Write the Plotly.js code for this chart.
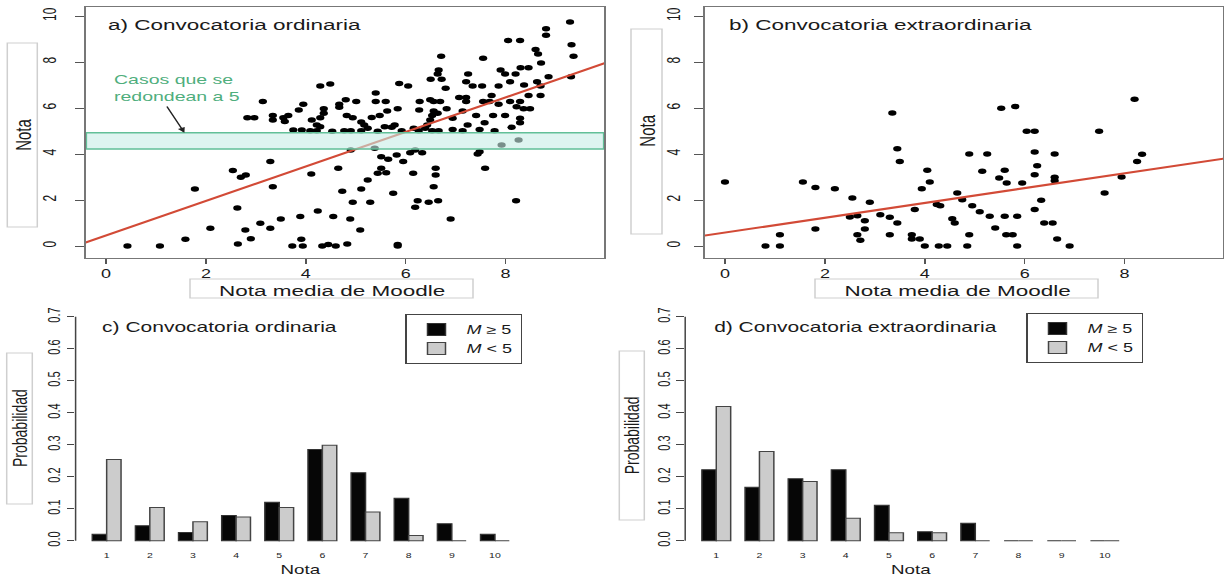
<!DOCTYPE html>
<html>
<head>
<meta charset="utf-8">
<script src="https://cdn.plot.ly/plotly-3.0.1.min.js"></script>
<style>
html,body{margin:0;padding:0;background:#fff;overflow:hidden;}
#wrap{width:1224px;height:578px;overflow:hidden;position:relative;}
#chart{width:816px;height:578px;transform:scaleX(1.5);transform-origin:0 0;}
</style>
</head>
<body>
<div id="wrap"><div id="chart"></div></div>
<script>
// ---------------- DATA ----------------
// a) Convocatoria ordinaria: nota media de Moodle vs nota del examen
const ordMoodle = [
 9.29, 8.81, 8.81, 8.05, 8.29, 9.32, 8.60, 8.65, 6.71, 9.36, 7.55, 8.71,
 8.30, 8.46, 7.90, 6.66, 6.64, 7.25, 7.99, 8.20, 9.31, 8.86, 6.50, 6.72, 7.21, 8.09, 8.63, 5.87, 4.49, 4.29, 6.05, 7.34, 7.53, 7.86, 8.37, 8.70,
 6.80, 5.40, 7.72, 7.07, 7.21, 8.46, 8.70, 4.80, 6.49,
 3.14, 5.01, 5.40, 5.60, 6.28, 6.56, 6.69, 7.21, 7.55, 7.68, 8.09, 8.29, 3.95, 4.67, 7.86, 4.67, 8.22, 8.36, 8.49, 3.86, 4.36, 5.63, 5.84, 6.56, 6.82, 7.14, 6.27,
 3.34, 3.65, 2.83, 2.97, 3.55, 4.36, 4.29, 4.82, 4.94, 5.32, 5.48, 6.53, 6.64, 6.94, 7.41, 7.75, 7.99, 8.29, 3.34, 3.58, 4.12, 5.11, 6.49, 7.58, 8.29, 4.22, 5.17, 6.43, 7.24, 8.12, 4.29, 5.58, 5.78,
 3.75, 3.92, 4.09, 4.22, 4.53, 4.77, 4.90, 5.11, 5.24, 5.44, 5.72, 5.92, 6.16, 6.26, 6.39, 6.53, 6.66, 6.94, 7.14, 7.48, 7.78,
 5.38, 7.92, 8.26,
 4.90, 6.19, 6.09, 6.33, 5.51, 5.65, 5.82, 7.48, 7.44, 5.95, 3.29, 4.65, 5.51, 5.61, 5.44, 6.60, 6.60, 7.59, 2.54, 2.80,
 2.70, 4.11, 6.15, 5.24, 3.34, 6.56, 1.78, 5.11, 4.73, 5.75, 2.63, 4.94, 5.29, 6.24, 6.46, 6.65, 6.19, 8.21, 4.24, 3.50,
 3.89, 4.55, 4.89, 6.90, 3.09, 2.09, 3.29, 2.79, 5.09, 1.59, 2.90, 3.91, 2.64, 4.83, 0.43, 1.08, 3.73, 3.94, 4.33, 4.45,
 4.60, 5.84, 5.84
];
const ordNota = [
 9.74, 9.45, 9.16, 8.94, 8.94, 8.75, 8.55, 8.35, 8.25, 8.25, 8.16, 7.96,
 7.75, 7.75, 7.65, 7.65, 7.48, 7.48, 7.48, 7.48, 7.36, 7.36, 7.25, 7.25, 7.14, 7.14, 7.14, 7.07, 7.04, 6.96, 6.96, 6.96, 6.96, 6.96, 7.00, 6.96,
 6.86, 6.65, 6.55, 6.46, 6.46, 6.55, 6.55, 6.36, 6.36,
 6.28, 6.28, 6.28, 6.28, 6.28, 6.28, 6.28, 6.28, 6.28, 6.28, 6.28, 6.28, 6.16, 6.16, 6.16, 6.03, 6.06, 5.97, 5.97, 5.91, 5.97, 5.87, 5.97, 5.87, 5.97, 5.87, 5.91,
 5.68, 5.67, 5.58, 5.58, 5.58, 5.77, 5.58, 5.67, 5.58, 5.59, 5.67, 5.67, 5.77, 5.55, 5.67, 5.67, 5.67, 5.55, 5.48, 5.41, 5.48, 5.39, 5.48, 5.36, 5.36, 5.26, 5.26, 5.26, 5.26, 5.16, 5.19, 5.19, 5.26,
 5.04, 5.04, 5.01, 5.01, 4.99, 5.01, 5.01, 5.01, 5.12, 4.99, 5.16, 5.01, 5.12, 5.01, 5.12, 5.01, 5.01, 5.07, 5.01, 5.07, 5.01,
 4.25, 4.39, 4.61,
 4.17, 4.17, 4.06, 4.06, 3.88, 3.77, 3.96, 4.10, 4.00, 3.67, 3.67, 3.38, 3.38, 3.19, 3.16, 3.38, 3.09, 3.38, 3.28, 3.09,
 2.99, 3.13, 3.16, 2.87, 2.58, 2.58, 2.48, 2.48, 2.38, 2.29, 1.65, 1.90, 1.90, 1.97, 1.90, 1.97, 1.68, 1.97, 1.52, 1.17,
 1.28, 1.28, 1.17, 1.17, 0.99, 0.77, 0.77, 0.70, 0.70, 0.29, 0.32, 0.29, 0.09, 0.09, 0, 0, 0, 0, 0, 0.07,
 0, 0.07, 0
];
// b) Convocatoria extraordinaria
const extMoodle = [
 0, 1.56, 1.81, 2.20, 2.55, 2.90, 1.81, 0.81, 1.10, 1.10,
 2.50, 2.65, 2.80, 2.80, 2.65, 2.71, 3.11, 3.30, 3.45, 3.30,
 3.35, 3.45, 3.50, 3.80, 3.74, 3.74, 3.90, 4.00, 3.94, 4.05,
 4.10, 4.24, 4.31, 4.28, 4.45, 4.55, 4.60, 4.65, 4.75, 4.85,
 4.89, 4.89, 4.95, 5.10, 5.15, 5.25, 5.30, 5.41, 5.49, 5.53,
 5.60, 5.64, 5.60, 5.63, 5.76, 5.81, 5.85, 5.85, 5.95, 6.04,
 6.20, 6.20, 6.25, 6.20, 6.20, 6.33, 6.39, 6.56, 6.60, 6.60,
 6.60, 6.65, 6.90, 7.49, 7.60, 7.94, 8.20, 8.25, 8.35
];
const extNota = [
 2.78, 2.78, 2.54, 2.49, 2.09, 1.90, 0.74, 0, 0, 0.49,
 1.26, 1.32, 1.10, 0.74, 0.49, 0.25, 1.36, 1.25, 1.00, 0.49,
 5.78, 4.23, 3.68, 1.59, 0.49, 0.30, 0.30, 0, 2.49, 3.29,
 2.78, 1.80, 1.75, 0, 0, 1.19, 1.00, 2.30, 2.01, 0,
 0.49, 4.00, 1.75, 1.49, 3.25, 4.00, 1.29, 0.78, 2.96, 5.99,
 3.29, 2.74, 1.29, 0.49, 0.49, 6.07, 1.29, 0, 2.74, 4.99,
 4.99, 4.09, 3.49, 3.10, 1.59, 1.99, 1.00, 1.00, 4.00, 2.99,
 2.84, 0.30, 0, 4.99, 2.30, 3.00, 6.38, 3.68, 3.99
];
// regression lines (end points)
const rectaOrdX = [-1, 11];
const rectaOrdY = [-0.29, 8.71];
const rectaExtX = [-1, 11];
const rectaExtY = [0.26, 4.13];
// band: cases rounded to 5
const bandaRedondeo = [4.22, 4.93];

// c), d) probability bars
const notas = [1, 2, 3, 4, 5, 6, 7, 8, 9, 10];
const ordMge5 = [0.020, 0.047, 0.026, 0.079, 0.120, 0.285, 0.212, 0.133, 0.053, 0.020];
const ordMlt5 = [0.254, 0.104, 0.059, 0.074, 0.104, 0.298, 0.090, 0.016, 0.000, 0.000];
const extMge5 = [0.222, 0.167, 0.194, 0.222, 0.111, 0.028, 0.055, 0.000, 0.000, 0.000];
const extMlt5 = [0.419, 0.279, 0.185, 0.070, 0.025, 0.025, 0.000, 0.000, 0.000, 0.000];
const probTicks = [0, 0.1, 0.2, 0.3, 0.4, 0.5, 0.6, 0.7];
const probTickText = ['0.0', '0.1', '0.2', '0.3', '0.4', '0.5', '0.6', '0.7'];
const notaTicks = [0, 2, 4, 6, 8];
const notaYTicks = [0, 2, 4, 6, 8, 10];

// ---------------- LAYOUT HELPERS ----------------
const W = 1224, H = 578;
const px = X => X / W;
const py = Y => 1 - Y / H;
const FONT = 'Liberation Sans, Arial, Helvetica, sans-serif';
const TXT = '#1a1a1a';

const scatterAxisX = (dom, anchor) => ({
  domain: dom, anchor: anchor, range: [-0.4, 9.97], tickvals: notaTicks,
  ticks: 'outside', ticklen: 5, tickwidth: 1, tickcolor: '#555',
  showline: true, mirror: true, linecolor: '#777', linewidth: 1.2,
  showgrid: false, zeroline: false, tickfont: {family: FONT, size: 12, color: TXT}
});
const scatterAxisY = (dom, anchor, standoff) => ({
  domain: dom, anchor: anchor, range: [-0.5, 10.38], tickvals: notaYTicks,
  ticks: 'outside', ticklen: 6, tickwidth: 1, tickcolor: '#555', tickangle: -90,
  ticklabelstandoff: standoff,
  showline: true, mirror: true, linecolor: '#777', linewidth: 1.2,
  showgrid: false, zeroline: false, tickfont: {family: FONT, size: 12, color: TXT}
});
const barAxisX = (dom, anchor) => ({
  domain: dom, anchor: anchor, range: [0.28, 10.72], tickvals: notas,
  ticks: '', showline: false, showgrid: false, zeroline: false,
  tickfont: {family: FONT, size: 7, color: '#222'}
});
const barAxisY = (dom, anchor) => ({
  domain: dom, anchor: anchor, range: [-0.028, 0.728], tickvals: probTicks, ticktext: probTickText,
  ticks: 'outside', ticklen: 5, tickwidth: 1, tickcolor: '#444', tickangle: -90,
  showline: false, showgrid: false, zeroline: false,
  tickfont: {family: FONT, size: 11, color: TXT}
});

// ---------------- TRACES ----------------
const dot = {color: '#000', size: 5.5};
const red = {color: '#d24a36', width: 2};
const blackBar = {color: '#060606', line: {color: '#333', width: 1}};
const grayBar = {color: '#cccccc', line: {color: '#444', width: 1}};

const traces = [
  {type: 'scatter', mode: 'markers', x: ordMoodle, y: ordNota, xaxis: 'x', yaxis: 'y', marker: dot, showlegend: false},
  {type: 'scatter', mode: 'lines', x: rectaOrdX, y: rectaOrdY, xaxis: 'x', yaxis: 'y', line: red, showlegend: false},
  {type: 'scatter', mode: 'markers', x: extMoodle, y: extNota, xaxis: 'x2', yaxis: 'y2', marker: dot, showlegend: false},
  {type: 'scatter', mode: 'lines', x: rectaExtX, y: rectaExtY, xaxis: 'x2', yaxis: 'y2', line: red, showlegend: false},
  {type: 'bar', x: notas, y: ordMge5, xaxis: 'x3', yaxis: 'y3', marker: blackBar, name: '<i>M</i> ≥ 5', legend: 'legend'},
  {type: 'bar', x: notas, y: ordMlt5, xaxis: 'x3', yaxis: 'y3', marker: grayBar, name: '<i>M</i> &lt; 5', legend: 'legend'},
  {type: 'bar', x: notas, y: extMge5, xaxis: 'x4', yaxis: 'y4', marker: blackBar, name: '<i>M</i> ≥ 5', legend: 'legend2'},
  {type: 'bar', x: notas, y: extMlt5, xaxis: 'x4', yaxis: 'y4', marker: grayBar, name: '<i>M</i> &lt; 5', legend: 'legend2'}
];

// ---------------- ANNOTATIONS & SHAPES ----------------
const ann = (text, X, Y, size, opts) => Object.assign({
  text: text, xref: 'paper', yref: 'paper', x: px(X), y: py(Y),
  xanchor: 'center', yanchor: 'middle', showarrow: false, borderpad: 0,
  font: {family: FONT, size: size, color: TXT}
}, opts || {});
const box = (X0, X1, Y0, Y1) => ({
  type: 'rect', xref: 'paper', yref: 'paper', x0: px(X0), x1: px(X1), y0: py(Y1), y1: py(Y0),
  line: {color: '#cfcfcf', width: 1}, fillcolor: 'rgba(255,255,255,1)', layer: 'below'
});

const annotations = [
  ann('a) Convocatoria ordinaria', 106, 25, 15, {xanchor: 'left'}),
  ann('b) Convocatoria extraordinaria', 728, 25, 15, {xanchor: 'left'}),
  ann('c) Convocatoria ordinaria', 100, 327, 14, {xanchor: 'left'}),
  ann('d) Convocatoria extraordinaria', 712, 327, 14, {xanchor: 'left'}),
  ann('Casos que se<br>redondean a 5', 112, 88, 13, {xanchor: 'left', align: 'left',
      font: {family: FONT, size: 13, color: '#4fae7d'}}),
  {xref: 'x', yref: 'y', axref: 'x', ayref: 'y', x: 1.57, y: 4.93, ax: 1.2, ay: 6.13, text: '',
   showarrow: true, arrowhead: 2, arrowsize: 1, arrowwidth: 1, arrowcolor: '#222', standoff: 0},
  ann('Nota', 22.3, 135, 15, {textangle: -90}),
  ann('Nota', 646, 131, 15, {textangle: -90}),
  ann('Nota media de Moodle', 332, 290, 15),
  ann('Nota media de Moodle', 957, 290, 15),
  ann('Probabilidad', 19.5, 428, 14, {textangle: -90}),
  ann('Probabilidad', 632, 435, 14, {textangle: -90}),
  ann('Nota', 300, 570, 12.5),
  ann('Nota', 910, 570, 12.5)
];

const shapes = [
  box(7.3, 37.3, 43, 227),
  box(631, 662, 29, 234),
  box(190, 473, 279, 298),
  box(815, 1098, 279, 298),
  box(6.7, 32.3, 353, 504),
  box(619.3, 644.3, 351, 520),
  {type: 'rect', xref: 'x', yref: 'y', x0: -0.4, x1: 9.97, y0: bandaRedondeo[0], y1: bandaRedondeo[1],
   fillcolor: 'rgba(200,236,230,0.6)', line: {color: '#62bf98', width: 1.5}, layer: 'above'},
  {type: 'line', xref: 'x3 domain', yref: 'y3', x0: 0, x1: 0, y0: 0, y1: 0.7, line: {color: '#444', width: 1}},
  {type: 'line', xref: 'x4 domain', yref: 'y4', x0: 0, x1: 0, y0: 0, y1: 0.7, line: {color: '#444', width: 1}}
];

const legendStyle = (X, Y) => ({
  x: px(X), y: py(Y), xanchor: 'left', yanchor: 'top', bgcolor: '#fff',
  bordercolor: '#444', borderwidth: 1, tracegroupgap: 0, itemwidth: 30,
  font: {family: FONT, size: 12, color: TXT}
});

const layout = {
  width: 816, height: 578, autosize: false,
  margin: {l: 0, r: 0, t: 0, b: 0, pad: 0},
  paper_bgcolor: '#fff', plot_bgcolor: 'rgba(0,0,0,0)',
  font: {family: FONT, color: TXT},
  barmode: 'group', bargap: 1 / 3, bargroupgap: 0,
  showlegend: true,
  legend: legendStyle(405, 314),
  legend2: legendStyle(1026, 313),
  xaxis: scatterAxisX([px(86), px(604)], 'y'),
  yaxis: scatterAxisY([py(257.5), py(7.3)], 'x', 8),
  xaxis2: scatterAxisX([px(705), px(1223)], 'y2'),
  yaxis2: scatterAxisY([py(257.5), py(7.3)], 'x2', 5),
  xaxis3: barAxisX([px(75.6), px(526)], 'y3'),
  yaxis3: barAxisY([py(549.7), py(307.7)], 'x3'),
  xaxis4: barAxisX([px(685.2), px(1135.9)], 'y4'),
  yaxis4: barAxisY([py(549.7), py(307.7)], 'x4'),
  annotations: annotations,
  shapes: shapes
};

Plotly.newPlot('chart', traces, layout, {staticPlot: true, displayModeBar: false});
</script>
</body>
</html>
